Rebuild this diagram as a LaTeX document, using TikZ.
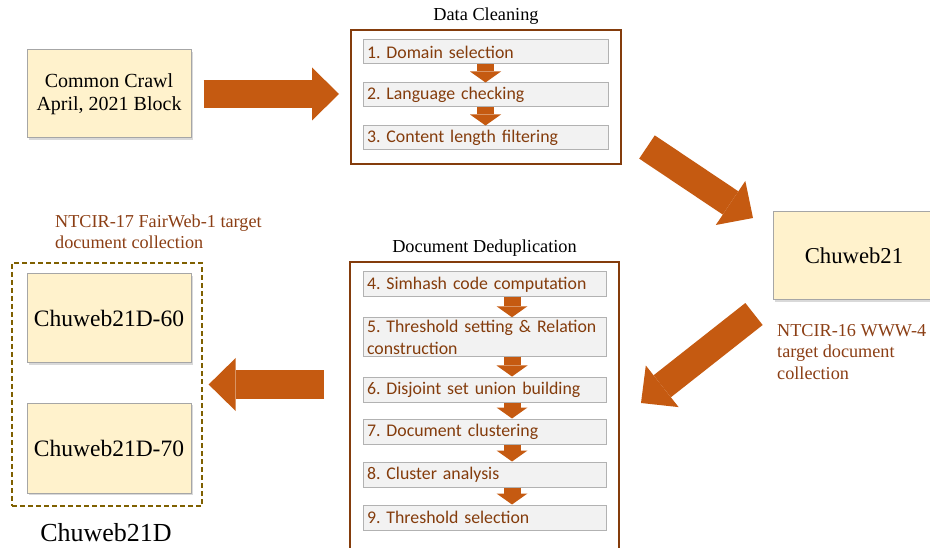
\documentclass[tikz,border=0pt]{standalone}
\usepackage{fontspec}
\setmainfont{Liberation Serif}
\newfontfamily\stepfont{Carlito}
\usetikzlibrary{positioning,arrows.meta,shadows}
\definecolor{arrowfill}{HTML}{C55A11}
\definecolor{framebrown}{HTML}{843C0C}
\definecolor{notebrown}{HTML}{8B3E14}
\definecolor{boxfill}{HTML}{FFF2CC}
\definecolor{stepfill}{HTML}{F2F2F2}
\definecolor{olivedash}{HTML}{7F6000}
\frenchspacing

\begin{document}
\begin{tikzpicture}[x=1pt,y=-1pt]
  \tikzstyle{data box}=[draw=black!35, line width=1pt, fill=boxfill, align=center, inner sep=0pt,
    drop shadow={shadow xshift=2pt,shadow yshift=-2pt,opacity=.3},
    minimum width=164pt, minimum height=88pt, font=\fontsize{20}{23}\selectfont]
  \tikzstyle{step box}=[draw=black!30, line width=1pt, fill=stepfill, text=framebrown, align=left,
    inner xsep=4pt, inner ysep=2pt, minimum height=25pt, font=\stepfont\fontsize{17.8}{22}\selectfont]
  \tikzstyle{frame}=[draw=framebrown, line width=2pt, inner sep=0pt]
  \tikzstyle{title}=[font=\fontsize{18.3}{22}\selectfont, inner sep=2pt]
  \tikzstyle{note}=[text=notebrown, align=left, inner sep=0pt, font=\fontsize{18.2}{21.5}\selectfont]
  \tikzstyle{big arrow}=[arrowfill, line width=28pt, -{Triangle[length=27pt,width=53pt,line width=0pt]}]
  \tikzstyle{small arrow}=[arrowfill, line width=17pt, -{Triangle[length=11pt,width=31pt,line width=0pt]}]

  \useasboundingbox (0,0) rectangle (930,548);
  \clip (0,0) rectangle (930,548);

  % Source block
  \node[data box] (cc) at (109,94) {Common Crawl\\April, 2021 Block};

  % Data cleaning frame and its steps
  \node[frame, minimum width=270pt, minimum height=134pt] (dcframe) at (486,97) {};
  \node[title, above=2pt of dcframe] (dctitle) {Data Cleaning};
  \foreach \name/\y/\txt in {1/52/Domain selection, 2/95/Language checking, 3/138/Content length filtering}
      \node[step box, minimum width=245pt, text width=237pt, minimum height=24pt] (s\name) at (485.5,\y) {\name. \txt};
  \foreach \a/\b in {1/2,2/3}
      \draw[small arrow] (s\a.south) -- (s\b.north);

  % Chuweb21
  \node[data box, minimum width=162pt, font=\fontsize{22.7}{26}\selectfont] (cw) at (854,256) {Chuweb21};
  \node[note, anchor=west] (cwnote) at (777,352) {NTCIR-16 WWW-4\\target document\\collection};

  % Document deduplication frame and its steps
  \node[frame, minimum width=269pt, minimum height=300pt, anchor=north] (ddframe) at (484.5,261) {};
  \node[title, above=2pt of ddframe] (ddtitle) {Document Deduplication};
  \foreach \name/\y/\txt in {4/284.5/Simhash code computation,
                             5/337/{Threshold setting \& Relation\\construction},
                             6/389.5/Disjoint set union building,
                             7/431.5/Document clustering,
                             8/474.5/Cluster analysis,
                             9/517.5/Threshold selection}
      \node[step box, minimum width=243pt, text width=235pt] (s\name) at (484.5,\y) {\hyphenpenalty=10000 \name. \txt};
  \coordinate (dx) at (512,0);
  \foreach \a/\b in {4/5,5/6,6/7,7/8,8/9}
      \draw[small arrow] (s\a.south -| dx) -- (s\b.north -| dx);

  % Chuweb21D collections
  \node[draw=olivedash, line width=1.3pt, dash pattern=on 5pt off 3pt, minimum width=190pt, minimum height=243pt] (dbox) at (107,384.5) {};
  \node[data box, minimum height=89pt, font=\fontsize{23.5}{27}\selectfont] (d60) at (109,318.5) {Chuweb21D-60};
  \node[data box, minimum height=90pt, font=\fontsize{23.5}{27}\selectfont] (d70) at (109,448) {Chuweb21D-70};
  \node[font=\fontsize{26}{30}\selectfont, inner sep=0pt] (dname) at (106,533) {Chuweb21D};
  \node[note, anchor=west] (dnote) at (55,232) {NTCIR-17 FairWeb-1 target\\document collection};

  % Block arrows between the stages
  \coordinate (a2s) at (647,147);
  \coordinate (a2e) at (753,218);
  \coordinate (a3s) at (754,314);
  \coordinate (a3e) at (641,403);
  \draw[big arrow, shorten <=12pt, shorten >=11pt] (cc.east) -- (cc.east -| dcframe.west);
  \draw[big arrow] (a2s) -- (a2e);
  \draw[big arrow] (a3s) -- (a3e);
  \draw[big arrow, shorten <=25pt, shorten >=6pt] (ddframe.west |- dbox.east) -- (dbox.east);
\end{tikzpicture}
\end{document}
